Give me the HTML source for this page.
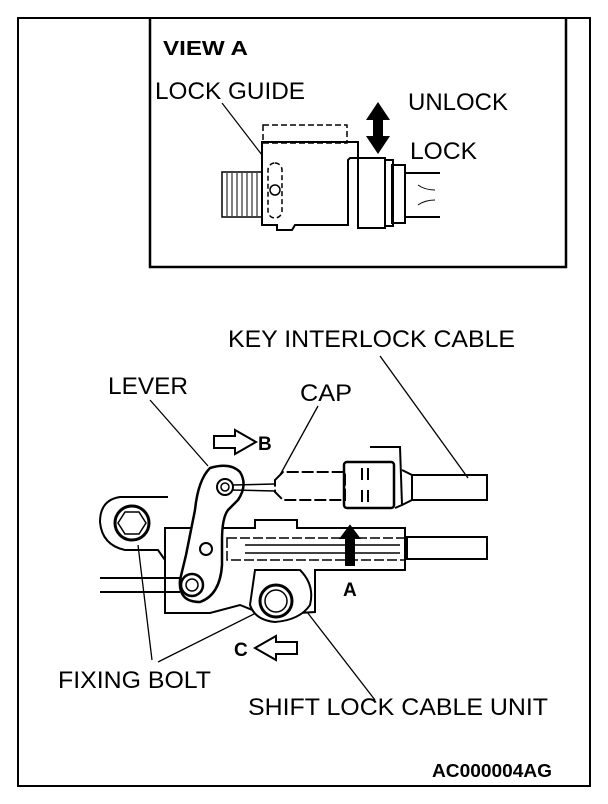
<!DOCTYPE html>
<html><head><style>
html,body{margin:0;padding:0;background:#fff;}
svg{display:block;}
text{font-family:"Liberation Sans",Arial,sans-serif;fill:#000;}
</style></head><body>
<svg width="608" height="804" viewBox="0 0 608 804" xmlns="http://www.w3.org/2000/svg" fill="none" stroke="#000" stroke-width="2">
<rect x="18" y="18" width="572" height="768" stroke-width="2"/>
<polyline points="150,18 150,267 566,267 566,18" stroke-width="2.5"/>
<!-- VIEW A -->
<text x="163" y="55" font-size="20" font-weight="bold" stroke="none" textLength="85" lengthAdjust="spacingAndGlyphs">VIEW A</text>
<text x="155" y="99" font-size="24" stroke="none" textLength="150" lengthAdjust="spacingAndGlyphs">LOCK GUIDE</text>
<text x="408" y="110" font-size="24" stroke="none" textLength="100" lengthAdjust="spacingAndGlyphs">UNLOCK</text>
<text x="410" y="159" font-size="24" stroke="none" textLength="67" lengthAdjust="spacingAndGlyphs">LOCK</text>
<line x1="222" y1="103" x2="262" y2="155" stroke-width="1.2"/>
<path d="M378,102 L366,120 L373,120 L373,136 L366,136 L378,154 L390,136 L383,136 L383,120 L390,120 Z" fill="#000" stroke="none"/>
<rect x="222" y="172" width="40" height="45" stroke-width="1.5"/>
<g stroke-width="1">
<line x1="227" y1="173" x2="227" y2="216"/><line x1="232" y1="173" x2="232" y2="216"/><line x1="237" y1="173" x2="237" y2="216"/><line x1="242" y1="173" x2="242" y2="216"/><line x1="247" y1="173" x2="247" y2="216"/><line x1="252" y1="173" x2="252" y2="216"/><line x1="257" y1="173" x2="257" y2="216"/>
</g>
<path d="M262,142 L358,142 L358,158 L350,158 L348,160 L348,225 L295,225 L292,230 L277,230 L277,225 L262,225 Z"/>
<rect x="263" y="125" width="84" height="18" stroke-dasharray="6,3" stroke-width="1.5"/>
<rect x="268" y="163" width="14" height="55" rx="7" stroke-dasharray="5,3" stroke-width="1.5"/>
<circle cx="275" cy="190" r="5" stroke-width="1.5"/>
<rect x="358" y="158" width="27" height="70"/>
<rect x="385" y="160" width="8" height="66"/>
<rect x="392" y="165" width="13" height="58"/>
<path d="M405,173 L440,173 M405,217 L440,217" />
<path d="M418,185 Q425,190 435,190 M418,205 Q425,200 435,200" stroke-width="1"/>
<!-- main labels -->
<text x="228" y="347" font-size="24" stroke="none" textLength="287" lengthAdjust="spacingAndGlyphs">KEY INTERLOCK CABLE</text>
<text x="108" y="394" font-size="24" stroke="none" textLength="80" lengthAdjust="spacingAndGlyphs">LEVER</text>
<text x="300" y="401" font-size="24" stroke="none" textLength="52" lengthAdjust="spacingAndGlyphs">CAP</text>
<text x="58" y="688" font-size="24" stroke="none" textLength="153" lengthAdjust="spacingAndGlyphs">FIXING BOLT</text>
<text x="248" y="715" font-size="24" stroke="none" textLength="300" lengthAdjust="spacingAndGlyphs">SHIFT LOCK CABLE UNIT</text>
<text x="432" y="777" font-size="18" font-weight="bold" stroke="none" textLength="120" lengthAdjust="spacingAndGlyphs">AC000004AG</text>
<text x="258" y="450" font-size="19" font-weight="bold" stroke="none">B</text>
<text x="343" y="596" font-size="19" font-weight="bold" stroke="none">A</text>
<text x="234" y="656" font-size="19" font-weight="bold" stroke="none">C</text>
<!-- leaders -->
<g stroke-width="1.3">
<line x1="380" y1="356" x2="468" y2="478"/>
<line x1="150" y1="400" x2="208" y2="466"/>
<line x1="318" y1="406" x2="280" y2="475"/>
<line x1="138" y1="545" x2="152" y2="660"/>
<line x1="262" y1="610" x2="158" y2="662"/>
<line x1="307" y1="612" x2="375" y2="700"/>
</g>
<!-- arrows -->
<path d="M214,436 L235,436 L235,430 L256,442 L235,454 L235,448 L214,448 Z" stroke-width="2"/>
<path d="M297,642 L276,642 L276,636 L255,648 L276,660 L276,654 L297,654 Z" stroke-width="2"/>
<path d="M350,526 L341,538 L346,538 L346,565 L354,565 L354,538 L359,538 Z" fill="#000"/>
<!-- bracket with bolt -->
<path d="M168,497 L120,497 Q100,500 100,522 Q102,545 125,550 L158,550 L165,560"/>
<circle cx="132" cy="523" r="17" stroke-width="3"/>
<polygon points="125,512 139,512 146,523 139,534 125,534 118,523" stroke-width="1.5"/>
<!-- main plate -->
<path d="M165,528 L255,528 L255,520 L297,520 L297,528 L405,528 L405,570 L315,570 L315,612 L265,615 L240,605 L210,613 L165,613 Z"/>
<path d="M255,570 L300,570 Q315,585 310,605 Q300,620 275,622 Q255,620 250,605 Z" fill="#fff"/>
<circle cx="276" cy="601" r="16" stroke-width="3"/>
<circle cx="276" cy="601" r="11" stroke-width="1.5"/>
<!-- lower cable inner -->
<rect x="227" y="538" width="178" height="22" stroke-dasharray="10,3" stroke-width="1.5"/>
<line x1="245" y1="545" x2="400" y2="545" stroke-width="1.5"/><line x1="245" y1="553" x2="400" y2="553" stroke-width="1.5"/>
<rect x="407" y="537" width="80" height="22"/>
<line x1="100" y1="578" x2="180" y2="578"/><line x1="100" y1="592" x2="180" y2="592"/>
<!-- lever -->
<path d="M210,468 Q230,462 240,472 Q248,485 238,500 L228,510 Q222,518 222,540 L222,565 Q220,595 200,602 Q178,602 180,580 L186,555 L195,510 Q198,480 210,468 Z" fill="#fff" stroke-width="2.5"/>
<circle cx="225" cy="487" r="8" stroke-width="2"/>
<circle cx="225" cy="487" r="4" stroke-width="1.5"/>
<circle cx="206" cy="549" r="6" stroke-width="2"/>
<circle cx="192" cy="585" r="11" stroke-width="2.5"/>
<circle cx="192" cy="585" r="6" stroke-width="1.5"/>
<!-- upper connector -->
<line x1="232" y1="485" x2="275" y2="484" stroke-width="1.5"/><line x1="232" y1="490" x2="275" y2="491" stroke-width="1.5"/>
<path d="M275,480 L283,472 L345,472 L345,500 L283,500 L275,492 Z" stroke-dasharray="12,3"/>
<path d="M370,447 L400,447 L402,505 L395,508"/>
<rect x="344" y="462" width="50" height="46" rx="3" stroke-width="2.5"/>
<path d="M362,468 L362,480 M368,468 L368,480 M362,490 L362,502 M368,490 L368,502" stroke-width="2"/>
<path d="M402,470 L412,475 L412,500 L402,505"/>
<rect x="412" y="475" width="75" height="25"/>
</svg>
</body></html>
